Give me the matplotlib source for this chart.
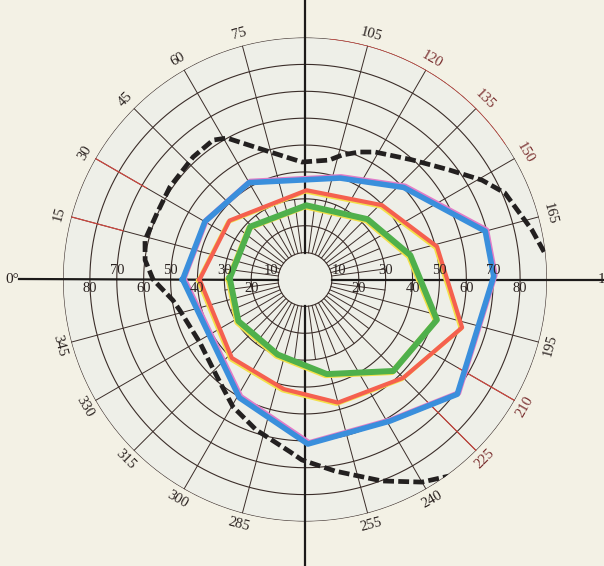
import numpy as np
import matplotlib
matplotlib.use("Agg")
import matplotlib.pyplot as plt
from matplotlib.transforms import offset_copy

# ---------------- data (meridian angle in degrees, eccentricity in degrees) ----------------
blue_ang = [0, 30, 60, 109, 137, 165, 179, 217, 239, 269, 299]
blue_r = [45.5, 43.0, 41.6, 39.9, 50.2, 69.4, 70.2, 70.9, 61.4, 61.2, 50.3]

red_ang = [0, 38, 91, 136, 166, 197, 225, 255, 281, 313]
red_r = [39.2, 35.6, 33.2, 39.8, 50.6, 61.1, 51.7, 47.4, 41.5, 39.9]

green_ang = [1, 44, 91, 136, 167, 197, 226, 257, 290, 328]
green_r = [28.0, 28.3, 27.6, 32.3, 40.2, 51.3, 47.3, 36.1, 29.7, 29.2]

dash_ang = [173.4, 167.7, 156.6, 150.7, 142.7, 131.8, 118.8, 113, 106.6, 101.4, 88.5,
            74.65, 61.1, 56.6, 47.6, 34.4, 24.2, 13.9, 6.9, 0, 351, 346, 329, 312,
            299.5, 288, 275, 271, 261.1, 249.1, 240, 233.8]
dash_r = [89.5, 86.4, 81.0, 75.5, 67.3, 59.7, 54.1, 51.5, 48.3, 45.3, 43.7,
          49.2, 60.1, 62.1, 61.7, 60.9, 60.3, 61.3, 59.9, 56.5, 49.7, 47.9, 45.6, 48.8,
          54.4, 58.8, 64.3, 67.1, 72.1, 80.2, 87.0, 90.6]

ring_values = [10, 20, 30, 40, 50, 60, 70, 80, 90]
ring_labels_above = [10, 30, 50, 70]
ring_labels_below = [20, 40, 60, 80]
meridian_labels = [15, 30, 45, 60, 75, 105, 120, 135, 150, 165,
                   195, 210, 225, 240, 255, 285, 300, 315, 330, 345]
reddish_labels = [120, 135, 150, 210, 225]

# ---------------- style ----------------
BG = "#f3f1e5"
INNER = "#eeefe8"
GRID = "#3b2d29"
AXIS = "#1c1a19"
RED_GRID = "#d5473f"
SERIF = "Liberation Serif"


def th(a):
    return np.deg2rad(np.asarray(a, dtype=float))


fig = plt.figure(figsize=(6.04, 5.66), dpi=100, facecolor=BG)
R_PX = 242.0
CX, CY = 305.0, 279.5
ax = fig.add_axes([(CX - R_PX) / 604, (566 - CY - R_PX) / 566, 2 * R_PX / 604, 2 * R_PX / 566],
                  projection="polar")
ax.set_theta_zero_location("W")
ax.set_theta_direction(-1)
ax.set_facecolor(INNER)
ax.grid(False)
ax.spines["polar"].set_visible(False)

# concentric circles
tt = np.linspace(0, 2 * np.pi, 721)
for rv in ring_values:
    ax.plot(tt, np.full_like(tt, rv), color=GRID, lw=0.8, zorder=1)
# red portion of the outer circle (printing)
ta = th(np.linspace(96, 146, 120))
ax.plot(ta, np.full_like(ta, 90), color=RED_GRID, lw=0.9, zorder=1.1)

# meridians every 15 deg
for L in range(0, 360, 15):
    if L % 90 == 0:
        continue
    ax.plot([th(L), th(L)], [10, 90], color=GRID, lw=0.7, zorder=1)
# extra central meridians
for k in range(48):
    L = 7.5 * k
    if k % 2 == 0:
        continue
    ax.plot([th(L), th(L)], [10, 30], color=GRID, lw=0.7, zorder=1)
# reddish meridian segments (printing)
for L, r0 in [(15, 70), (30, 68), (210, 66), (225, 64)]:
    ax.plot([th(L), th(L)], [r0, 90], color=RED_GRID, lw=0.8, zorder=1.1)

# main axes (thick)
ax.plot([th(0), th(0)], [10, 106.3], color=AXIS, lw=1.6, zorder=1.5, clip_on=False)
ax.plot([th(180), th(180)], [10, 125], color=AXIS, lw=1.6, zorder=1.5, clip_on=False)
ax.plot([th(90), th(90)], [10, 125], color=AXIS, lw=1.6, zorder=1.5, clip_on=False)
ax.plot([th(270), th(270)], [10, 125], color=AXIS, lw=1.6, zorder=1.5, clip_on=False)


def closed(a, r):
    return th(list(a) + [a[0]]), list(r) + [r[0]]


# misregistration fringes
yel_t = offset_copy(ax.transData, fig=fig, x=-1.3, y=-1.3, units="dots")
pink_t = offset_copy(ax.transData, fig=fig, x=1.2, y=1.2, units="dots")

ba, br = closed(blue_ang, blue_r)
ra, rr = closed(red_ang, red_r)
ga, gr = closed(green_ang, green_r)

ax.plot(ba, br, color="#e27cc8", lw=4.0, transform=pink_t, zorder=2, solid_joinstyle="round")
ax.plot(ra, rr, color="#f3e04a", lw=3.0, transform=yel_t, zorder=2, solid_joinstyle="round")
ax.plot(ga, gr, color="#f3e04a", lw=4.0, transform=yel_t, zorder=2, solid_joinstyle="round")

ax.plot(ba, br, color="#3a8fdc", lw=4.0, zorder=3, solid_joinstyle="round")
ax.plot(ra, rr, color="#f5604f", lw=3.0, zorder=3, solid_joinstyle="round")
ax.plot(ga, gr, color="#4fb04c", lw=4.3, zorder=3, solid_joinstyle="round")

ax.plot(th(dash_ang), dash_r, color="#232020", lw=3.4, dashes=(2.3, 0.9),
        dash_capstyle="butt", zorder=3.5)

# ring labels on the horizontal axis
for side in (0, 180):
    for rv in ring_labels_above:
        rpos = 12.5 if rv == 10 else rv
        ax.annotate(str(rv), xy=(th(side), rpos), xytext=(0, 1.5), textcoords="offset points",
                    ha="center", va="bottom", fontsize=10.5, family=SERIF, color="#2a2220",
                    zorder=4)
    for rv in ring_labels_below:
        ax.annotate(str(rv), xy=(th(side), rv), xytext=(0, -1.5), textcoords="offset points",
                    ha="center", va="top", fontsize=10.5, family=SERIF, color="#2a2220",
                    zorder=4)

# meridian labels around the outer circle
for L in meridian_labels:
    phi = 180 - L
    rot = phi - 90
    while rot > 90:
        rot -= 180
    while rot <= -90:
        rot += 180
    col = "#7a3030" if L in reddish_labels else "#2a2220"
    ax.text(th(L), 94.5, str(L), rotation=rot, rotation_mode="anchor", ha="center",
            va="center", fontsize=10.5, family=SERIF, color=col, zorder=4, clip_on=False)

ax.text(th(0), 106.5, "0°", ha="right", va="center", fontsize=11, family=SERIF,
        color="#2a2220", clip_on=False)
ax.text(th(180), 109, "180", ha="left", va="center", fontsize=11, family=SERIF,
        color="#2a2220", clip_on=False)

ax.set_xticks([])
ax.set_yticks([])
ax.set_ylim(0, 90)

fig.savefig("out.png", dpi=100, facecolor=BG)
